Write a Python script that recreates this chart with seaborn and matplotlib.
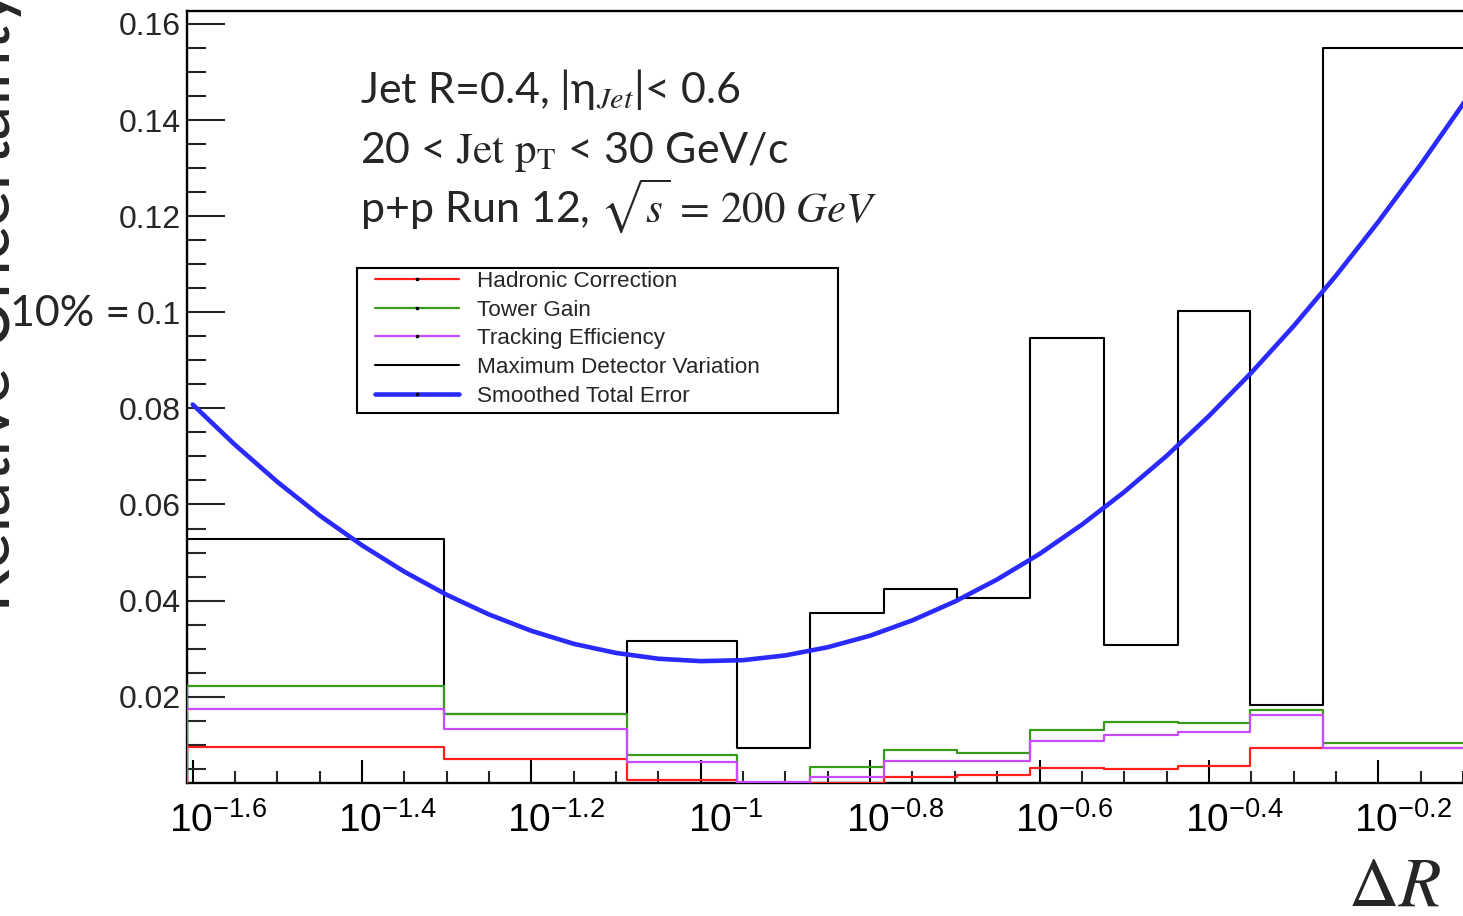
import numpy as np
import pandas as pd
import matplotlib
matplotlib.use("Agg")
import matplotlib.pyplot as plt
import matplotlib.transforms as mtransforms
from matplotlib.lines import Line2D
from matplotlib.patches import Rectangle
from matplotlib.ticker import FixedLocator, FixedFormatter, NullFormatter
import seaborn as sns

# ---------------- data ----------------
bin_edges = [0.02471, 0.04977, 0.0818, 0.1104, 0.1347, 0.1647, 0.2009,
             0.2449, 0.2996, 0.3656, 0.4457, 0.5436, 0.8]
hadronic_correction = [0.0096, 0.0070, 0.0027, 0.0021, 0.0021, 0.0033,
                       0.0038, 0.0051, 0.0049, 0.0056, 0.0094, 0.0093]
tower_gain = [0.0222, 0.0164, 0.0079, 0.0021, 0.0053, 0.0089,
              0.0082, 0.0131, 0.0147, 0.0146, 0.0172, 0.0104]
tracking_efficiency = [0.0174, 0.0132, 0.0065, 0.0022, 0.0033, 0.0066,
                       0.0066, 0.0108, 0.0120, 0.0127, 0.0162, 0.0094]
max_detector_variation = [0.0529, 0.0164, 0.0315, 0.0093, 0.0374, 0.0424,
                          0.0406, 0.0947, 0.0308, 0.1002, 0.0182, 0.1551]

smooth_log10_dR = [-1.60, -1.55, -1.50, -1.45, -1.40, -1.35, -1.30, -1.25,
                   -1.20, -1.15, -1.10, -1.05, -1.00, -0.95, -0.90, -0.85,
                   -0.80, -0.75, -0.70, -0.65, -0.60, -0.55, -0.50, -0.45,
                   -0.40, -0.35, -0.30, -0.25, -0.20, -0.15, -0.10, -0.097]
smooth_total_error = [0.0808, 0.0724, 0.0647, 0.0577, 0.0515, 0.0460, 0.0412,
                      0.0371, 0.0337, 0.0310, 0.0291, 0.0279, 0.0274, 0.0276,
                      0.0286, 0.0303, 0.0327, 0.0359, 0.0398, 0.0444, 0.0497,
                      0.0558, 0.0626, 0.0701, 0.0784, 0.0874, 0.0971, 0.1076,
                      0.1188, 0.1307, 0.1433, 0.1442]

series_names = ["Hadronic Correction", "Tower Gain", "Tracking Efficiency",
                "Maximum Detector Variation", "Smoothed Total Error"]

xtick_exponents = ["-1.6", "-1.4", "-1.2", "-1", "-0.8", "-0.6", "-0.4", "-0.2"]
xminor_exponents = [-1.60, -1.55, -1.50, -1.45, -1.40, -1.35, -1.30, -1.25,
                    -1.20, -1.15, -1.10, -1.05, -1.00, -0.95, -0.90, -0.85,
                    -0.80, -0.75, -0.70, -0.65, -0.60, -0.55, -0.50, -0.45,
                    -0.40, -0.35, -0.30, -0.25, -0.20, -0.15, -0.10]
ytick_values = [0.02, 0.04, 0.06, 0.08, 0.10, 0.12, 0.14, 0.16]
ytick_labels = ["0.02", "0.04", "0.06", "0.08", "0.1", "0.12", "0.14", "0.16"]
yminor_values = [0.005, 0.01, 0.015, 0.025, 0.03, 0.035, 0.045, 0.05, 0.055,
                 0.065, 0.07, 0.075, 0.085, 0.09, 0.095, 0.105, 0.11, 0.115,
                 0.125, 0.13, 0.135, 0.145, 0.15, 0.155]

# ---------------- style ----------------
sns.set_style("white")
plt.rcParams.update({
    "font.family": ["Liberation Sans", "DejaVu Sans"],
    "mathtext.fontset": "custom",
    "mathtext.rm": "Liberation Sans",
    "mathtext.it": "Liberation Sans:italic",
    "mathtext.bf": "Liberation Sans:bold",
    "axes.edgecolor": "black",
})

colors = {"red": "#ff1f1f", "green": "#3a9a1c", "purple": "#c84bff",
          "black": "black", "blue": "#2a2aff"}

W, H = 1463, 916
fig = plt.figure(figsize=(W / 100, H / 100), dpi=100)
fig.patch.set_facecolor("white")

def fx(px):
    return px / W

def fy(py):
    return 1 - py / H

ax_left, ax_right, ax_top, ax_bottom = 186.7, 1465.5, 11, 783
ax = fig.add_axes([fx(ax_left), fy(ax_bottom), (ax_right - ax_left) / W,
                   (ax_bottom - ax_top) / H])
ax.set_xscale("log")
ax.set_xlim(bin_edges[0], bin_edges[-1])
ax.set_ylim(0.00204, 0.1627)


def step_frame(vals):
    x = [bin_edges[0]] + list(bin_edges)
    y = [0.0] + list(vals) + [vals[-1]]
    return pd.DataFrame({"dR": x, "unc": y})


hist_series = [
    (max_detector_variation, colors["black"], 1.5, 2),
    (hadronic_correction, colors["red"], 1.6, 3),
    (tower_gain, colors["green"], 1.6, 4),
    (tracking_efficiency, colors["purple"], 1.6, 5),
]
for vals, c, lw, z in hist_series:
    sns.lineplot(data=step_frame(vals), x="dR", y="unc", estimator=None,
                 sort=False, drawstyle="steps-post", color=c, lw=lw,
                 zorder=z, ax=ax, legend=False)

smooth_df = pd.DataFrame({"dR": [10 ** v for v in smooth_log10_dR],
                          "unc": smooth_total_error})
sns.lineplot(data=smooth_df, x="dR", y="unc", estimator=None, sort=False,
             color=colors["blue"], lw=3.3, zorder=6, ax=ax, legend=False)

# ---------------- axes styling ----------------
for s in ["left", "bottom", "top"]:
    ax.spines[s].set_linewidth(1.7)
    ax.spines[s].set_color("black")
ax.spines["right"].set_visible(False)

ax.xaxis.set_major_locator(FixedLocator([10 ** float(e) for e in xtick_exponents]))
ax.xaxis.set_major_formatter(FixedFormatter([r"$10^{%s}$" % e for e in xtick_exponents]))
ax.xaxis.set_minor_locator(FixedLocator([10 ** e for e in xminor_exponents]))
ax.xaxis.set_minor_formatter(NullFormatter())
ax.yaxis.set_major_locator(FixedLocator(ytick_values))
ax.yaxis.set_major_formatter(FixedFormatter(ytick_labels))
ax.yaxis.set_minor_locator(FixedLocator(yminor_values))

ax.tick_params(axis="x", which="major", direction="in", length=16.5, width=1.5,
               labelsize=28, pad=14, bottom=True, top=False, colors="black")
ax.tick_params(axis="x", which="minor", direction="in", length=8.5, width=1.5,
               bottom=True, top=False)
ax.tick_params(axis="y", which="major", direction="in", length=27, width=1.5,
               labelsize=23, pad=4, left=True, right=False)
ax.tick_params(axis="y", which="minor", direction="in", length=14, width=1.5,
               left=True, right=False)

offset = mtransforms.ScaledTranslation(0.25, 0, fig.dpi_scale_trans)
for lab in ax.get_xticklabels():
    lab.set_transform(lab.get_transform() + offset)

ax.set_xlabel(r"$\Delta R$", fontsize=50, math_fontfamily="stix",
              ha="center", va="baseline")
ax.xaxis.set_label_coords(fx(1395), fy(906), transform=fig.transFigure)
ax.set_ylabel("Relative Uncertainty", fontsize=50, family=["Lato", "DejaVu Sans"],
              ha="left", va="baseline", rotation=90, rotation_mode="anchor")
ax.yaxis.set_label_coords(fx(10), fy(612), transform=fig.transFigure)

# "10% =" next to the 0.1 tick label
fig.text(fx(130), fy(314), "10% =", fontsize=31, family=["Lato", "DejaVu Sans"],
         ha="right", va="center")

# ---------------- annotation ----------------
ann_kw = dict(fontsize=31, family=["Lato", "DejaVu Sans"], math_fontfamily="stix",
              ha="left", va="baseline")
fig.text(fx(360), fy(103), r"Jet R=0.4, |η$_{Jet}$|< 0.6", **ann_kw)
fig.text(fx(360), fy(163), r"20 < $\mathrm{Jet\ p_{T}}$ < 30 GeV/c", **ann_kw)
fig.text(fx(360), fy(222), r"p+p Run 12, $\sqrt{s}\,=\,200\ GeV$", **ann_kw)

# ---------------- legend ----------------
handles = [
    Line2D([], [], color=colors["red"], lw=1.6, marker="s", ms=1.5, mfc="black", mec="black"),
    Line2D([], [], color=colors["green"], lw=1.6, marker="s", ms=1.5, mfc="black", mec="black"),
    Line2D([], [], color=colors["purple"], lw=1.6, marker="s", ms=1.5, mfc="black", mec="black"),
    Line2D([], [], color=colors["black"], lw=1.5),
    Line2D([], [], color=colors["blue"], lw=3.3, marker="s", ms=1.5, mfc="black", mec="black"),
]
leg = fig.legend(handles, series_names, loc="upper left",
                 bbox_to_anchor=(fx(375), fy(271)), frameon=False,
                 prop={"family": "Liberation Sans", "size": 16.2},
                 borderpad=0, borderaxespad=0, handlelength=3.75,
                 handletextpad=0.8, labelspacing=0.34, numpoints=1)
fig.add_artist(Rectangle((fx(357), fy(413)), fx(838) - fx(357), fy(268) - fy(413),
                         transform=fig.transFigure, fill=False, ec="black",
                         lw=1.5, zorder=10))

fig.savefig("out.png", dpi=100)
